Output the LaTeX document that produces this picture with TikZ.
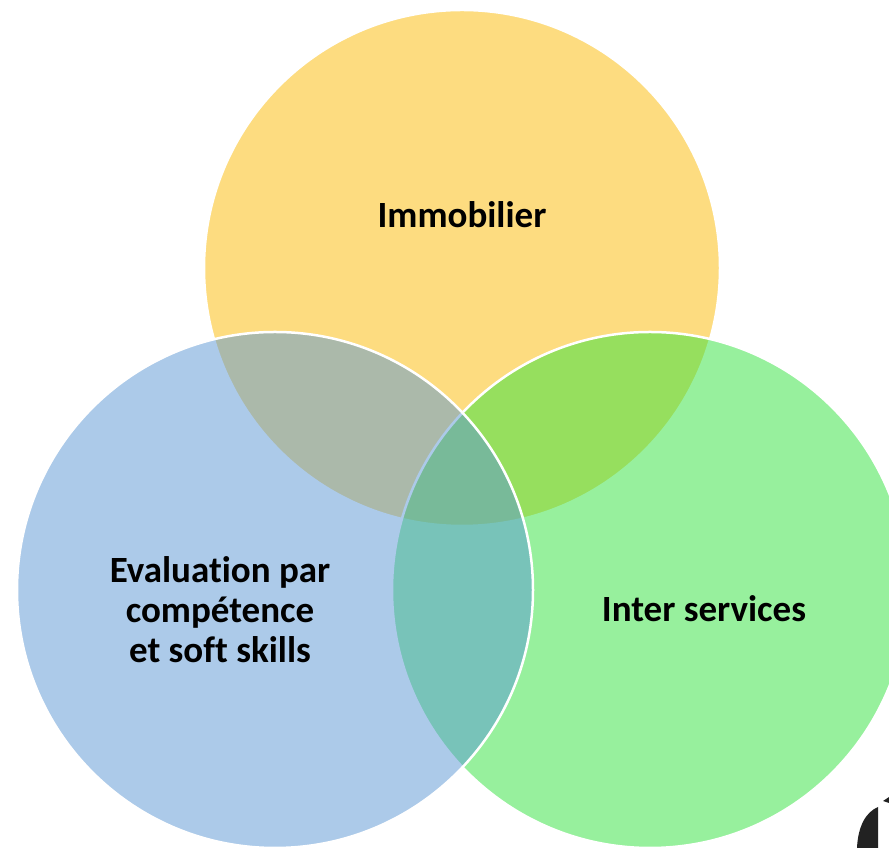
\documentclass[tikz,border=0pt]{standalone}
\usepackage{fontspec}
\setsansfont{Carlito}[RawFeature=-liga]
\usepackage{tikz}
\usetikzlibrary{positioning}
\definecolor{immogold}{RGB}{253,187,2}
\definecolor{evalblue}{RGB}{91,151,213}
\definecolor{servgreen}{RGB}{49,226,61}
\definecolor{cornerdark}{RGB}{34,34,34}
\tikzset{venn/.style={draw=white,line width=2.5pt,fill opacity=0.5,draw opacity=1}}
\tikzset{vlabel/.style={align=center,font=\fontsize{37}{40}\selectfont\sffamily\bfseries}}

\begin{document}
\begin{tikzpicture}[x=1pt,y=1pt]
\useasboundingbox (0,0) rectangle (889,848);
\clip (0,0) rectangle (889,848);
\fill[white] (0,0) rectangle (889,848);
% Draw the three circles: top, right, left
\draw[venn,fill=immogold] (462,580) coordinate (ci) circle[radius=258];
\draw[venn,fill=servgreen] (650,258) coordinate (cs) circle[radius=258];
\draw[venn,fill=evalblue] (275,258) coordinate (ce) circle[radius=258];
% Labels
\node[vlabel] (immo) at (462,633) {Immobilier};
\node[vlabel] (eval) at (220,238) {Evaluation par\\compétence\\et soft skills};
\node[vlabel] (serv) at (704,239) {Inter services};
% Cropped dark shape in the corner
\fill[cornerdark] (857,0) .. controls (858,22) and (866,36) .. (878,41) -- (878,0) -- cycle;
\fill[cornerdark] (883,47) -- (889,51) -- (889,45) -- cycle;
\end{tikzpicture}
\end{document}
